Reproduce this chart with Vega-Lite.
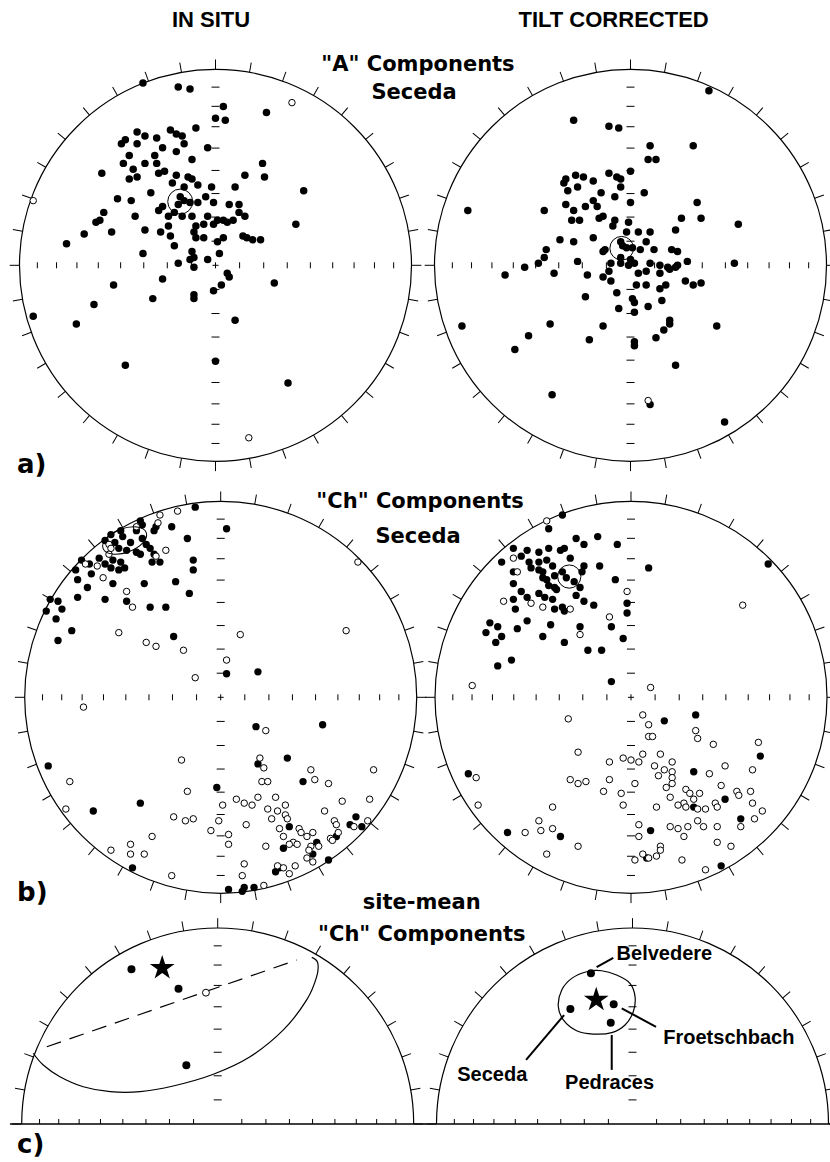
{
"$schema":"https://vega.github.io/schema/vega-lite/v6.json",
"width":830,"height":1162,"autosize":{"type":"none"},"padding":0,"background":"white",
"config":{"view":{"stroke":null}},
"datasets":{
"az":[{"az":0,"x":0,"y":0},{"az":10,"x":0,"y":0},{"az":20,"x":0,"y":0},{"az":30,"x":0,"y":0},{"az":40,"x":0,"y":0},{"az":50,"x":0,"y":0},{"az":60,"x":0,"y":0},{"az":70,"x":0,"y":0},{"az":80,"x":0,"y":0},{"az":90,"x":0,"y":0},{"az":100,"x":0,"y":0},{"az":110,"x":0,"y":0},{"az":120,"x":0,"y":0},{"az":130,"x":0,"y":0},{"az":140,"x":0,"y":0},{"az":150,"x":0,"y":0},{"az":160,"x":0,"y":0},{"az":170,"x":0,"y":0},{"az":180,"x":0,"y":0},{"az":190,"x":0,"y":0},{"az":200,"x":0,"y":0},{"az":210,"x":0,"y":0},{"az":220,"x":0,"y":0},{"az":230,"x":0,"y":0},{"az":240,"x":0,"y":0},{"az":250,"x":0,"y":0},{"az":260,"x":0,"y":0},{"az":270,"x":0,"y":0},{"az":280,"x":0,"y":0},{"az":290,"x":0,"y":0},{"az":300,"x":0,"y":0},{"az":310,"x":0,"y":0},{"az":320,"x":0,"y":0},{"az":330,"x":0,"y":0},{"az":340,"x":0,"y":0},{"az":350,"x":0,"y":0}],
"grid":[{"x":0.123,"y":0,"d":"h"},{"x":-0.123,"y":0,"d":"h"},{"x":0,"y":0.123,"d":"v"},{"x":0,"y":-0.123,"d":"v"},{"x":0.246,"y":0,"d":"h"},{"x":-0.246,"y":0,"d":"h"},{"x":0,"y":0.246,"d":"v"},{"x":0,"y":-0.246,"d":"v"},{"x":0.366,"y":0,"d":"h"},{"x":-0.366,"y":0,"d":"h"},{"x":0,"y":0.366,"d":"v"},{"x":0,"y":-0.366,"d":"v"},{"x":0.484,"y":0,"d":"h"},{"x":-0.484,"y":0,"d":"h"},{"x":0,"y":0.484,"d":"v"},{"x":0,"y":-0.484,"d":"v"},{"x":0.598,"y":0,"d":"h"},{"x":-0.598,"y":0,"d":"h"},{"x":0,"y":0.598,"d":"v"},{"x":0,"y":-0.598,"d":"v"},{"x":0.707,"y":0,"d":"h"},{"x":-0.707,"y":0,"d":"h"},{"x":0,"y":0.707,"d":"v"},{"x":0,"y":-0.707,"d":"v"},{"x":0.811,"y":0,"d":"h"},{"x":-0.811,"y":0,"d":"h"},{"x":0,"y":0.811,"d":"v"},{"x":0,"y":-0.811,"d":"v"},{"x":0.909,"y":0,"d":"h"},{"x":-0.909,"y":0,"d":"h"},{"x":0,"y":0.909,"d":"v"},{"x":0,"y":-0.909,"d":"v"}],
"ctr":[{"x":0,"y":0}],
"TL":[{"x":-0.37,"y":0.93,"t":"F"},{"x":-0.19,"y":0.91,"t":"F"},{"x":-0.13,"y":0.9,"t":"F"},{"x":0.04,"y":0.81,"t":"F"},{"x":0,"y":0.75,"t":"F"},{"x":0.05,"y":0.74,"t":"F"},{"x":0.26,"y":0.78,"t":"F"},{"x":-0.1,"y":0.7,"t":"F"},{"x":-0.23,"y":0.69,"t":"F"},{"x":-0.2,"y":0.67,"t":"F"},{"x":-0.17,"y":0.66,"t":"F"},{"x":-0.4,"y":0.68,"t":"F"},{"x":-0.36,"y":0.66,"t":"F"},{"x":-0.46,"y":0.64,"t":"F"},{"x":-0.48,"y":0.62,"t":"F"},{"x":-0.4,"y":0.62,"t":"F"},{"x":-0.3,"y":0.65,"t":"F"},{"x":-0.16,"y":0.62,"t":"F"},{"x":-0.27,"y":0.6,"t":"F"},{"x":-0.2,"y":0.58,"t":"F"},{"x":-0.04,"y":0.6,"t":"F"},{"x":-0.44,"y":0.56,"t":"F"},{"x":-0.31,"y":0.56,"t":"F"},{"x":-0.12,"y":0.54,"t":"F"},{"x":-0.47,"y":0.52,"t":"F"},{"x":-0.36,"y":0.52,"t":"F"},{"x":-0.3,"y":0.52,"t":"F"},{"x":-0.42,"y":0.49,"t":"F"},{"x":-0.29,"y":0.47,"t":"F"},{"x":-0.26,"y":0.48,"t":"F"},{"x":-0.44,"y":0.44,"t":"F"},{"x":-0.4,"y":0.45,"t":"F"},{"x":-0.2,"y":0.46,"t":"F"},{"x":-0.22,"y":0.42,"t":"F"},{"x":-0.14,"y":0.45,"t":"F"},{"x":-0.12,"y":0.44,"t":"F"},{"x":-0.58,"y":0.47,"t":"F"},{"x":0.24,"y":0.52,"t":"F"},{"x":0.15,"y":0.46,"t":"F"},{"x":0.25,"y":0.45,"t":"F"},{"x":-0.16,"y":0.4,"t":"F"},{"x":-0.09,"y":0.41,"t":"F"},{"x":-0.02,"y":0.4,"t":"F"},{"x":0.1,"y":0.4,"t":"F"},{"x":0.45,"y":0.38,"t":"F"},{"x":-0.33,"y":0.37,"t":"F"},{"x":-0.5,"y":0.34,"t":"F"},{"x":-0.43,"y":0.33,"t":"F"},{"x":-0.18,"y":0.35,"t":"F"},{"x":-0.16,"y":0.33,"t":"F"},{"x":-0.13,"y":0.32,"t":"F"},{"x":-0.19,"y":0.31,"t":"F"},{"x":-0.05,"y":0.35,"t":"F"},{"x":-0.09,"y":0.32,"t":"F"},{"x":-0.01,"y":0.32,"t":"F"},{"x":0.07,"y":0.31,"t":"F"},{"x":0.12,"y":0.31,"t":"F"},{"x":-0.29,"y":0.28,"t":"F"},{"x":-0.27,"y":0.3,"t":"F"},{"x":-0.21,"y":0.27,"t":"F"},{"x":-0.24,"y":0.25,"t":"F"},{"x":-0.17,"y":0.25,"t":"F"},{"x":-0.12,"y":0.25,"t":"F"},{"x":-0.57,"y":0.27,"t":"F"},{"x":-0.59,"y":0.23,"t":"F"},{"x":-0.61,"y":0.22,"t":"F"},{"x":-0.41,"y":0.25,"t":"F"},{"x":-0.04,"y":0.25,"t":"F"},{"x":0.01,"y":0.23,"t":"F"},{"x":0.06,"y":0.22,"t":"F"},{"x":0.09,"y":0.23,"t":"F"},{"x":0.15,"y":0.25,"t":"F"},{"x":0.12,"y":0.27,"t":"F"},{"x":0.41,"y":0.21,"t":"F"},{"x":-0.24,"y":0.2,"t":"F"},{"x":-0.1,"y":0.2,"t":"F"},{"x":-0.06,"y":0.21,"t":"F"},{"x":-0.01,"y":0.21,"t":"F"},{"x":0.04,"y":0.23,"t":"F"},{"x":-0.67,"y":0.16,"t":"F"},{"x":-0.53,"y":0.17,"t":"F"},{"x":-0.36,"y":0.18,"t":"F"},{"x":-0.28,"y":0.17,"t":"F"},{"x":-0.23,"y":0.15,"t":"F"},{"x":-0.11,"y":0.17,"t":"F"},{"x":-0.1,"y":0.14,"t":"F"},{"x":-0.06,"y":0.14,"t":"F"},{"x":0.01,"y":0.12,"t":"F"},{"x":0.04,"y":0.14,"t":"F"},{"x":0.14,"y":0.15,"t":"F"},{"x":0.16,"y":0.14,"t":"F"},{"x":0.19,"y":0.13,"t":"F"},{"x":0.23,"y":0.13,"t":"F"},{"x":-0.76,"y":0.11,"t":"F"},{"x":-0.21,"y":0.1,"t":"F"},{"x":-0.37,"y":0.06,"t":"F"},{"x":-0.12,"y":0.07,"t":"F"},{"x":-0.11,"y":0.04,"t":"F"},{"x":-0.04,"y":0.03,"t":"F"},{"x":0.02,"y":0.06,"t":"F"},{"x":-0.19,"y":0.01,"t":"F"},{"x":-0.13,"y":0.03,"t":"F"},{"x":-0.11,"y":-0.01,"t":"F"},{"x":0.06,"y":-0.04,"t":"F"},{"x":0.07,"y":-0.06,"t":"F"},{"x":0.03,"y":-0.1,"t":"F"},{"x":-0.01,"y":-0.13,"t":"F"},{"x":0.3,"y":-0.09,"t":"F"},{"x":-0.27,"y":-0.07,"t":"F"},{"x":-0.52,"y":-0.1,"t":"F"},{"x":-0.32,"y":-0.17,"t":"F"},{"x":-0.11,"y":-0.15,"t":"F"},{"x":-0.11,"y":-0.17,"t":"F"},{"x":-0.62,"y":-0.2,"t":"F"},{"x":-0.93,"y":-0.26,"t":"F"},{"x":-0.71,"y":-0.3,"t":"F"},{"x":0.1,"y":-0.28,"t":"F"},{"x":-0.46,"y":-0.51,"t":"F"},{"x":0,"y":-0.49,"t":"F"},{"x":0.37,"y":-0.6,"t":"F"},{"x":0.39,"y":0.83,"t":"O"},{"x":-0.93,"y":0.33,"t":"O"},{"x":0.17,"y":-0.88,"t":"O"}],
"TR":[{"x":0.4,"y":0.89,"t":"F"},{"x":-0.29,"y":0.74,"t":"F"},{"x":-0.11,"y":0.71,"t":"F"},{"x":-0.06,"y":0.7,"t":"F"},{"x":0.1,"y":0.61,"t":"F"},{"x":0.32,"y":0.61,"t":"F"},{"x":0.09,"y":0.54,"t":"F"},{"x":0.13,"y":0.54,"t":"F"},{"x":0,"y":0.48,"t":"F"},{"x":-0.11,"y":0.47,"t":"F"},{"x":-0.07,"y":0.45,"t":"F"},{"x":-0.05,"y":0.44,"t":"F"},{"x":-0.28,"y":0.46,"t":"F"},{"x":-0.24,"y":0.45,"t":"F"},{"x":-0.33,"y":0.44,"t":"F"},{"x":-0.34,"y":0.42,"t":"F"},{"x":-0.19,"y":0.43,"t":"F"},{"x":-0.27,"y":0.4,"t":"F"},{"x":-0.32,"y":0.38,"t":"F"},{"x":-0.05,"y":0.4,"t":"F"},{"x":0.07,"y":0.37,"t":"F"},{"x":-0.15,"y":0.37,"t":"F"},{"x":-0.08,"y":0.35,"t":"F"},{"x":-0.19,"y":0.33,"t":"F"},{"x":-0.17,"y":0.3,"t":"F"},{"x":-0.23,"y":0.3,"t":"F"},{"x":0,"y":0.32,"t":"F"},{"x":-0.33,"y":0.31,"t":"F"},{"x":-0.29,"y":0.28,"t":"F"},{"x":-0.83,"y":0.28,"t":"F"},{"x":-0.44,"y":0.28,"t":"F"},{"x":-0.14,"y":0.25,"t":"F"},{"x":-0.16,"y":0.24,"t":"F"},{"x":-0.3,"y":0.23,"t":"F"},{"x":-0.26,"y":0.23,"t":"F"},{"x":-0.08,"y":0.23,"t":"F"},{"x":-0.01,"y":0.22,"t":"F"},{"x":0.34,"y":0.32,"t":"F"},{"x":0.36,"y":0.24,"t":"F"},{"x":0.26,"y":0.24,"t":"F"},{"x":0.55,"y":0.21,"t":"F"},{"x":-0.02,"y":0.17,"t":"F"},{"x":0.04,"y":0.17,"t":"F"},{"x":0.1,"y":0.17,"t":"F"},{"x":0.23,"y":0.18,"t":"F"},{"x":-0.09,"y":0.2,"t":"F"},{"x":-0.19,"y":0.14,"t":"F"},{"x":-0.36,"y":0.13,"t":"F"},{"x":-0.29,"y":0.12,"t":"F"},{"x":0.08,"y":0.12,"t":"F"},{"x":-0.14,"y":0.07,"t":"F"},{"x":-0.13,"y":0.08,"t":"F"},{"x":-0.43,"y":0.08,"t":"F"},{"x":-0.44,"y":0.04,"t":"F"},{"x":-0.05,"y":0.12,"t":"F"},{"x":-0.04,"y":0.1,"t":"F"},{"x":-0.02,"y":0.09,"t":"F"},{"x":0.01,"y":0.09,"t":"F"},{"x":0.05,"y":0.08,"t":"F"},{"x":0.12,"y":0.08,"t":"F"},{"x":0.21,"y":0.08,"t":"F"},{"x":0.24,"y":0.07,"t":"F"},{"x":-0.05,"y":0.04,"t":"F"},{"x":0,"y":0.03,"t":"F"},{"x":-0.47,"y":0.01,"t":"F"},{"x":-0.27,"y":0.02,"t":"F"},{"x":-0.1,"y":0.01,"t":"F"},{"x":-0.05,"y":0.01,"t":"F"},{"x":-0.01,"y":0,"t":"F"},{"x":0.02,"y":0.01,"t":"F"},{"x":0.1,"y":0.01,"t":"F"},{"x":0.15,"y":0,"t":"F"},{"x":0.19,"y":-0.01,"t":"F"},{"x":0.24,"y":0,"t":"F"},{"x":0.29,"y":0.02,"t":"F"},{"x":0.53,"y":0.01,"t":"F"},{"x":-0.54,"y":-0.01,"t":"F"},{"x":-0.64,"y":-0.05,"t":"F"},{"x":-0.39,"y":-0.04,"t":"F"},{"x":-0.22,"y":-0.05,"t":"F"},{"x":-0.14,"y":-0.06,"t":"F"},{"x":-0.11,"y":-0.03,"t":"F"},{"x":-0.1,"y":-0.08,"t":"F"},{"x":0.04,"y":-0.04,"t":"F"},{"x":0.08,"y":-0.03,"t":"F"},{"x":0.15,"y":-0.04,"t":"F"},{"x":0.2,"y":-0.02,"t":"F"},{"x":0.23,"y":-0.01,"t":"F"},{"x":0.28,"y":-0.08,"t":"F"},{"x":0.32,"y":-0.1,"t":"F"},{"x":0.36,"y":-0.09,"t":"F"},{"x":0.03,"y":-0.1,"t":"F"},{"x":0.08,"y":-0.1,"t":"F"},{"x":0.15,"y":-0.12,"t":"F"},{"x":0.18,"y":-0.1,"t":"F"},{"x":-0.23,"y":-0.16,"t":"F"},{"x":-0.07,"y":-0.14,"t":"F"},{"x":0.01,"y":-0.17,"t":"F"},{"x":0.02,"y":-0.19,"t":"F"},{"x":0.09,"y":-0.21,"t":"F"},{"x":0.16,"y":-0.18,"t":"F"},{"x":-0.06,"y":-0.22,"t":"F"},{"x":0.02,"y":-0.24,"t":"F"},{"x":-0.86,"y":-0.31,"t":"F"},{"x":-0.41,"y":-0.3,"t":"F"},{"x":-0.14,"y":-0.31,"t":"F"},{"x":0.2,"y":-0.28,"t":"F"},{"x":0.2,"y":-0.3,"t":"F"},{"x":0.44,"y":-0.31,"t":"F"},{"x":-0.52,"y":-0.36,"t":"F"},{"x":-0.21,"y":-0.38,"t":"F"},{"x":0.02,"y":-0.39,"t":"F"},{"x":0.02,"y":-0.41,"t":"F"},{"x":0.13,"y":-0.37,"t":"F"},{"x":0.17,"y":-0.33,"t":"F"},{"x":-0.59,"y":-0.43,"t":"F"},{"x":0.23,"y":-0.51,"t":"F"},{"x":-0.4,"y":-0.66,"t":"F"},{"x":0.1,"y":-0.71,"t":"F"},{"x":0.48,"y":-0.8,"t":"F"},{"x":0.09,"y":-0.69,"t":"O"}],
"ML":[{"x":-0.13,"y":0.97,"t":"F"},{"x":-0.22,"y":0.95,"t":"O"},{"x":-0.31,"y":0.93,"t":"O"},{"x":-0.32,"y":0.89,"t":"O"},{"x":-0.33,"y":0.87,"t":"F"},{"x":-0.34,"y":0.85,"t":"F"},{"x":-0.25,"y":0.87,"t":"F"},{"x":-0.41,"y":0.9,"t":"F"},{"x":-0.43,"y":0.87,"t":"O"},{"x":-0.4,"y":0.88,"t":"F"},{"x":-0.43,"y":0.85,"t":"F"},{"x":-0.51,"y":0.85,"t":"F"},{"x":-0.56,"y":0.83,"t":"F"},{"x":-0.59,"y":0.8,"t":"F"},{"x":-0.57,"y":0.78,"t":"O"},{"x":-0.54,"y":0.79,"t":"F"},{"x":-0.5,"y":0.82,"t":"F"},{"x":-0.46,"y":0.79,"t":"F"},{"x":-0.48,"y":0.75,"t":"F"},{"x":-0.52,"y":0.76,"t":"F"},{"x":-0.56,"y":0.76,"t":"O"},{"x":-0.62,"y":0.71,"t":"F"},{"x":-0.57,"y":0.73,"t":"O"},{"x":-0.55,"y":0.7,"t":"F"},{"x":-0.51,"y":0.69,"t":"F"},{"x":-0.49,"y":0.66,"t":"F"},{"x":-0.52,"y":0.65,"t":"F"},{"x":-0.56,"y":0.66,"t":"F"},{"x":-0.59,"y":0.68,"t":"F"},{"x":-0.38,"y":0.78,"t":"F"},{"x":-0.36,"y":0.76,"t":"F"},{"x":-0.34,"y":0.73,"t":"F"},{"x":-0.31,"y":0.69,"t":"F"},{"x":-0.35,"y":0.69,"t":"F"},{"x":-0.33,"y":0.72,"t":"O"},{"x":-0.41,"y":0.73,"t":"F"},{"x":-0.43,"y":0.74,"t":"F"},{"x":-0.4,"y":0.81,"t":"F"},{"x":-0.28,"y":0.75,"t":"O"},{"x":-0.71,"y":0.7,"t":"F"},{"x":-0.69,"y":0.68,"t":"O"},{"x":-0.74,"y":0.65,"t":"F"},{"x":-0.67,"y":0.68,"t":"F"},{"x":-0.63,"y":0.67,"t":"O"},{"x":-0.66,"y":0.63,"t":"F"},{"x":-0.6,"y":0.61,"t":"O"},{"x":-0.73,"y":0.6,"t":"F"},{"x":-0.68,"y":0.56,"t":"F"},{"x":-0.55,"y":0.58,"t":"F"},{"x":-0.73,"y":0.51,"t":"F"},{"x":-0.59,"y":0.5,"t":"F"},{"x":-0.48,"y":0.54,"t":"O"},{"x":-0.48,"y":0.49,"t":"F"},{"x":-0.45,"y":0.46,"t":"O"},{"x":-0.36,"y":0.46,"t":"F"},{"x":-0.28,"y":0.46,"t":"F"},{"x":-0.39,"y":0.58,"t":"F"},{"x":-0.23,"y":0.59,"t":"F"},{"x":-0.16,"y":0.53,"t":"F"},{"x":-0.14,"y":0.7,"t":"F"},{"x":-0.14,"y":0.65,"t":"F"},{"x":-0.17,"y":0.81,"t":"F"},{"x":0.03,"y":0.86,"t":"F"},{"x":-0.87,"y":0.5,"t":"F"},{"x":-0.83,"y":0.49,"t":"F"},{"x":-0.89,"y":0.44,"t":"F"},{"x":-0.81,"y":0.45,"t":"F"},{"x":-0.84,"y":0.4,"t":"F"},{"x":-0.76,"y":0.34,"t":"F"},{"x":-0.83,"y":0.29,"t":"F"},{"x":-0.52,"y":0.33,"t":"O"},{"x":-0.38,"y":0.28,"t":"O"},{"x":-0.33,"y":0.26,"t":"O"},{"x":-0.24,"y":0.31,"t":"F"},{"x":-0.19,"y":0.24,"t":"O"},{"x":0.1,"y":0.32,"t":"O"},{"x":0.03,"y":0.19,"t":"O"},{"x":0.7,"y":0.69,"t":"O"},{"x":0.64,"y":0.34,"t":"O"},{"x":0.03,"y":0.12,"t":"F"},{"x":0.19,"y":0.13,"t":"F"},{"x":-0.13,"y":0.1,"t":"O"},{"x":-0.7,"y":-0.05,"t":"O"},{"x":0.18,"y":-0.15,"t":"F"},{"x":0.23,"y":-0.17,"t":"O"},{"x":0.52,"y":-0.14,"t":"F"},{"x":-0.88,"y":-0.35,"t":"F"},{"x":-0.77,"y":-0.43,"t":"O"},{"x":-0.2,"y":-0.32,"t":"O"},{"x":0.2,"y":-0.31,"t":"O"},{"x":0.19,"y":-0.34,"t":"F"},{"x":0.22,"y":-0.36,"t":"O"},{"x":0.34,"y":-0.31,"t":"F"},{"x":0.21,"y":-0.43,"t":"O"},{"x":0.24,"y":-0.43,"t":"O"},{"x":0.46,"y":-0.37,"t":"O"},{"x":0.48,"y":-0.42,"t":"O"},{"x":0.42,"y":-0.43,"t":"F"},{"x":0.55,"y":-0.44,"t":"O"},{"x":0.78,"y":-0.37,"t":"O"},{"x":-0.17,"y":-0.48,"t":"O"},{"x":-0.02,"y":-0.46,"t":"F"},{"x":0.01,"y":-0.55,"t":"O"},{"x":0.08,"y":-0.52,"t":"O"},{"x":0.12,"y":-0.54,"t":"O"},{"x":0.16,"y":-0.55,"t":"O"},{"x":0.19,"y":-0.51,"t":"O"},{"x":0.28,"y":-0.51,"t":"O"},{"x":0.33,"y":-0.55,"t":"O"},{"x":0.24,"y":-0.57,"t":"O"},{"x":0.29,"y":-0.58,"t":"O"},{"x":0.33,"y":-0.6,"t":"O"},{"x":0.34,"y":-0.62,"t":"O"},{"x":0.26,"y":-0.62,"t":"O"},{"x":0.62,"y":-0.53,"t":"O"},{"x":0.53,"y":-0.58,"t":"O"},{"x":0.76,"y":-0.52,"t":"O"},{"x":-0.79,"y":-0.57,"t":"O"},{"x":-0.65,"y":-0.58,"t":"F"},{"x":-0.41,"y":-0.54,"t":"F"},{"x":-0.24,"y":-0.61,"t":"O"},{"x":-0.18,"y":-0.63,"t":"O"},{"x":-0.14,"y":-0.62,"t":"O"},{"x":-0.01,"y":-0.63,"t":"O"},{"x":0.13,"y":-0.65,"t":"O"},{"x":0.35,"y":-0.66,"t":"F"},{"x":0.3,"y":-0.67,"t":"O"},{"x":0.4,"y":-0.67,"t":"O"},{"x":0.41,"y":-0.69,"t":"O"},{"x":0.44,"y":-0.71,"t":"O"},{"x":0.47,"y":-0.69,"t":"O"},{"x":0.58,"y":-0.63,"t":"O"},{"x":0.59,"y":-0.65,"t":"O"},{"x":0.69,"y":-0.61,"t":"F"},{"x":0.66,"y":-0.65,"t":"F"},{"x":0.68,"y":-0.66,"t":"O"},{"x":0.75,"y":-0.63,"t":"O"},{"x":0.72,"y":-0.66,"t":"F"},{"x":0.6,"y":-0.69,"t":"O"},{"x":0.56,"y":-0.72,"t":"O"},{"x":0.59,"y":-0.71,"t":"F"},{"x":0.57,"y":-0.73,"t":"O"},{"x":0.49,"y":-0.74,"t":"F"},{"x":-0.05,"y":-0.68,"t":"O"},{"x":0.04,"y":-0.7,"t":"O"},{"x":0.04,"y":-0.75,"t":"O"},{"x":0.32,"y":-0.71,"t":"O"},{"x":0.37,"y":-0.74,"t":"O"},{"x":0.39,"y":-0.75,"t":"O"},{"x":0.35,"y":-0.75,"t":"O"},{"x":0.32,"y":-0.77,"t":"F"},{"x":0.23,"y":-0.76,"t":"O"},{"x":0.46,"y":-0.76,"t":"O"},{"x":0.5,"y":-0.76,"t":"O"},{"x":0.45,"y":-0.78,"t":"O"},{"x":0.47,"y":-0.8,"t":"F"},{"x":0.44,"y":-0.82,"t":"O"},{"x":0.47,"y":-0.84,"t":"O"},{"x":0.55,"y":-0.83,"t":"F"},{"x":0.38,"y":-0.86,"t":"O"},{"x":0.29,"y":-0.86,"t":"O"},{"x":0.3,"y":-0.87,"t":"F"},{"x":0.32,"y":-0.87,"t":"O"},{"x":0.28,"y":-0.89,"t":"F"},{"x":0.35,"y":-0.9,"t":"O"},{"x":0.12,"y":-0.85,"t":"O"},{"x":0.11,"y":-0.91,"t":"O"},{"x":-0.35,"y":-0.71,"t":"O"},{"x":-0.46,"y":-0.75,"t":"O"},{"x":-0.46,"y":-0.8,"t":"O"},{"x":-0.39,"y":-0.8,"t":"O"},{"x":-0.56,"y":-0.78,"t":"O"},{"x":-0.45,"y":-0.87,"t":"F"},{"x":-0.25,"y":-0.91,"t":"O"},{"x":0.04,"y":-0.98,"t":"F"},{"x":0.11,"y":-0.99,"t":"F"},{"x":0.12,"y":-0.97,"t":"F"},{"x":0.17,"y":-0.97,"t":"F"},{"x":0.22,"y":-0.96,"t":"O"}],
"MR":[{"x":-0.35,"y":0.93,"t":"F"},{"x":-0.43,"y":0.9,"t":"O"},{"x":-0.42,"y":0.86,"t":"F"},{"x":-0.28,"y":0.81,"t":"F"},{"x":-0.24,"y":0.78,"t":"F"},{"x":-0.17,"y":0.82,"t":"F"},{"x":-0.07,"y":0.78,"t":"F"},{"x":-0.6,"y":0.76,"t":"F"},{"x":-0.53,"y":0.75,"t":"F"},{"x":-0.47,"y":0.74,"t":"F"},{"x":-0.42,"y":0.76,"t":"F"},{"x":-0.36,"y":0.75,"t":"F"},{"x":-0.34,"y":0.76,"t":"F"},{"x":-0.66,"y":0.69,"t":"F"},{"x":-0.6,"y":0.71,"t":"O"},{"x":-0.56,"y":0.72,"t":"F"},{"x":-0.52,"y":0.69,"t":"F"},{"x":-0.47,"y":0.69,"t":"F"},{"x":-0.43,"y":0.7,"t":"F"},{"x":-0.4,"y":0.67,"t":"F"},{"x":-0.31,"y":0.71,"t":"F"},{"x":-0.24,"y":0.67,"t":"F"},{"x":-0.16,"y":0.67,"t":"F"},{"x":-0.6,"y":0.64,"t":"F"},{"x":-0.58,"y":0.64,"t":"O"},{"x":-0.51,"y":0.66,"t":"F"},{"x":-0.47,"y":0.65,"t":"F"},{"x":-0.45,"y":0.64,"t":"F"},{"x":-0.45,"y":0.61,"t":"F"},{"x":-0.43,"y":0.6,"t":"F"},{"x":-0.39,"y":0.62,"t":"F"},{"x":-0.35,"y":0.64,"t":"F"},{"x":-0.33,"y":0.61,"t":"F"},{"x":-0.29,"y":0.59,"t":"F"},{"x":-0.25,"y":0.64,"t":"F"},{"x":-0.26,"y":0.56,"t":"F"},{"x":-0.28,"y":0.52,"t":"F"},{"x":-0.24,"y":0.49,"t":"F"},{"x":-0.19,"y":0.47,"t":"F"},{"x":-0.39,"y":0.56,"t":"F"},{"x":-0.38,"y":0.55,"t":"F"},{"x":-0.42,"y":0.57,"t":"F"},{"x":-0.6,"y":0.58,"t":"F"},{"x":-0.56,"y":0.54,"t":"F"},{"x":-0.53,"y":0.51,"t":"F"},{"x":-0.47,"y":0.53,"t":"F"},{"x":-0.44,"y":0.51,"t":"F"},{"x":-0.4,"y":0.5,"t":"F"},{"x":-0.39,"y":0.45,"t":"F"},{"x":-0.35,"y":0.46,"t":"F"},{"x":-0.34,"y":0.44,"t":"F"},{"x":-0.45,"y":0.46,"t":"O"},{"x":-0.51,"y":0.48,"t":"O"},{"x":-0.65,"y":0.49,"t":"O"},{"x":-0.6,"y":0.5,"t":"F"},{"x":-0.59,"y":0.45,"t":"F"},{"x":-0.53,"y":0.39,"t":"F"},{"x":-0.31,"y":0.45,"t":"O"},{"x":-0.08,"y":0.6,"t":"F"},{"x":-0.02,"y":0.54,"t":"O"},{"x":-0.02,"y":0.48,"t":"F"},{"x":-0.02,"y":0.43,"t":"F"},{"x":-0.11,"y":0.41,"t":"O"},{"x":-0.1,"y":0.36,"t":"F"},{"x":-0.04,"y":0.3,"t":"F"},{"x":-0.26,"y":0.36,"t":"F"},{"x":-0.26,"y":0.32,"t":"O"},{"x":-0.41,"y":0.37,"t":"F"},{"x":-0.58,"y":0.35,"t":"F"},{"x":-0.45,"y":0.31,"t":"F"},{"x":-0.34,"y":0.28,"t":"F"},{"x":-0.22,"y":0.24,"t":"F"},{"x":-0.15,"y":0.24,"t":"F"},{"x":-0.72,"y":0.38,"t":"F"},{"x":-0.68,"y":0.36,"t":"F"},{"x":-0.74,"y":0.33,"t":"F"},{"x":-0.66,"y":0.31,"t":"F"},{"x":-0.69,"y":0.28,"t":"F"},{"x":-0.61,"y":0.19,"t":"F"},{"x":-0.68,"y":0.16,"t":"F"},{"x":0.09,"y":0.66,"t":"F"},{"x":0.57,"y":0.47,"t":"O"},{"x":0.7,"y":0.68,"t":"F"},{"x":-0.1,"y":0.08,"t":"F"},{"x":-0.81,"y":0.06,"t":"O"},{"x":0.1,"y":0.05,"t":"O"},{"x":-0.32,"y":-0.11,"t":"O"},{"x":0.06,"y":-0.09,"t":"O"},{"x":0.09,"y":-0.14,"t":"O"},{"x":0.17,"y":-0.12,"t":"F"},{"x":0.33,"y":-0.09,"t":"F"},{"x":0.09,"y":-0.2,"t":"O"},{"x":0.11,"y":-0.2,"t":"O"},{"x":0.33,"y":-0.17,"t":"O"},{"x":0.34,"y":-0.21,"t":"O"},{"x":0.42,"y":-0.24,"t":"O"},{"x":0.65,"y":-0.23,"t":"O"},{"x":0.66,"y":-0.3,"t":"F"},{"x":-0.27,"y":-0.28,"t":"O"},{"x":-0.11,"y":-0.33,"t":"O"},{"x":-0.04,"y":-0.31,"t":"O"},{"x":0,"y":-0.32,"t":"O"},{"x":0.04,"y":-0.33,"t":"O"},{"x":0.06,"y":-0.29,"t":"O"},{"x":0.15,"y":-0.29,"t":"O"},{"x":0.12,"y":-0.35,"t":"O"},{"x":0.17,"y":-0.37,"t":"O"},{"x":0.21,"y":-0.33,"t":"O"},{"x":0.21,"y":-0.38,"t":"O"},{"x":0.14,"y":-0.4,"t":"O"},{"x":0.21,"y":-0.41,"t":"O"},{"x":0.21,"y":-0.44,"t":"O"},{"x":0.18,"y":-0.46,"t":"O"},{"x":0.32,"y":-0.38,"t":"F"},{"x":0.4,"y":-0.39,"t":"O"},{"x":0.48,"y":-0.35,"t":"O"},{"x":0.62,"y":-0.37,"t":"O"},{"x":-0.83,"y":-0.39,"t":"F"},{"x":-0.79,"y":-0.41,"t":"O"},{"x":-0.31,"y":-0.42,"t":"O"},{"x":-0.27,"y":-0.44,"t":"O"},{"x":-0.23,"y":-0.43,"t":"O"},{"x":-0.11,"y":-0.42,"t":"O"},{"x":0.02,"y":-0.44,"t":"O"},{"x":-0.14,"y":-0.48,"t":"O"},{"x":-0.05,"y":-0.49,"t":"O"},{"x":-0.04,"y":-0.55,"t":"O"},{"x":0.2,"y":-0.51,"t":"O"},{"x":0.28,"y":-0.47,"t":"O"},{"x":0.3,"y":-0.49,"t":"O"},{"x":0.35,"y":-0.49,"t":"O"},{"x":0.32,"y":-0.52,"t":"O"},{"x":0.27,"y":-0.54,"t":"O"},{"x":0.24,"y":-0.55,"t":"O"},{"x":0.28,"y":-0.56,"t":"O"},{"x":0.32,"y":-0.56,"t":"F"},{"x":0.34,"y":-0.57,"t":"O"},{"x":0.38,"y":-0.57,"t":"O"},{"x":0.46,"y":-0.45,"t":"O"},{"x":0.43,"y":-0.54,"t":"O"},{"x":0.44,"y":-0.56,"t":"O"},{"x":0.48,"y":-0.52,"t":"F"},{"x":0.54,"y":-0.48,"t":"O"},{"x":0.55,"y":-0.5,"t":"O"},{"x":0.61,"y":-0.48,"t":"O"},{"x":0.62,"y":-0.54,"t":"O"},{"x":0.67,"y":-0.58,"t":"O"},{"x":0.63,"y":-0.62,"t":"O"},{"x":0.56,"y":-0.62,"t":"F"},{"x":0.56,"y":-0.66,"t":"O"},{"x":0.34,"y":-0.63,"t":"O"},{"x":0.37,"y":-0.66,"t":"O"},{"x":0.44,"y":-0.66,"t":"O"},{"x":0.13,"y":-0.56,"t":"O"},{"x":0.04,"y":-0.65,"t":"O"},{"x":0.1,"y":-0.68,"t":"F"},{"x":0.2,"y":-0.66,"t":"O"},{"x":0.24,"y":-0.67,"t":"O"},{"x":0.29,"y":-0.66,"t":"O"},{"x":0.27,"y":-0.71,"t":"O"},{"x":0.04,"y":-0.71,"t":"O"},{"x":0.15,"y":-0.76,"t":"O"},{"x":0.15,"y":-0.78,"t":"O"},{"x":0.13,"y":-0.81,"t":"O"},{"x":0.08,"y":-0.82,"t":"F"},{"x":0.06,"y":-0.8,"t":"O"},{"x":0.09,"y":-0.82,"t":"O"},{"x":0.02,"y":-0.83,"t":"O"},{"x":0.26,"y":-0.83,"t":"O"},{"x":0.44,"y":-0.74,"t":"O"},{"x":0.51,"y":-0.76,"t":"O"},{"x":0.38,"y":-0.88,"t":"O"},{"x":0.46,"y":-0.86,"t":"F"},{"x":-0.78,"y":-0.55,"t":"O"},{"x":-0.63,"y":-0.69,"t":"F"},{"x":-0.54,"y":-0.69,"t":"O"},{"x":-0.47,"y":-0.63,"t":"O"},{"x":-0.46,"y":-0.68,"t":"O"},{"x":-0.4,"y":-0.67,"t":"O"},{"x":-0.36,"y":-0.71,"t":"F"},{"x":-0.4,"y":-0.56,"t":"O"},{"x":-0.27,"y":-0.76,"t":"O"},{"x":-0.43,"y":-0.8,"t":"O"}],
"BL":[{"x":-0.44,"y":0.79,"t":"F"},{"x":-0.2,"y":0.69,"t":"F"},{"x":-0.06,"y":0.67,"t":"O"},{"x":-0.16,"y":0.3,"t":"F"}],
"BLoval":[{"i":0,"x":-0.941,"y":0.361},{"i":1,"x":-0.89,"y":0.301},{"i":2,"x":-0.805,"y":0.241},{"i":3,"x":-0.686,"y":0.19},{"i":4,"x":-0.549,"y":0.165},{"i":5,"x":-0.396,"y":0.165},{"i":6,"x":-0.227,"y":0.194},{"i":7,"x":-0.022,"y":0.254},{"i":8,"x":0.165,"y":0.343},{"i":9,"x":0.335,"y":0.48},{"i":10,"x":0.454,"y":0.633},{"i":11,"x":0.505,"y":0.752},{"i":12,"x":0.51,"y":0.823},{"i":13,"x":0.48,"y":0.85}],
"BLdash":[{"i":0,"x":-0.872,"y":0.394},{"i":1,"x":0.403,"y":0.837}],
"BR":[{"x":-0.212,"y":0.769,"t":"F"},{"x":-0.317,"y":0.587,"t":"F"},{"x":-0.096,"y":0.611,"t":"F"},{"x":-0.111,"y":0.517,"t":"F"}],
"BRoval":[{"i":0,"x":-0.379,"y":0.602},{"i":1,"x":-0.361,"y":0.684},{"i":2,"x":-0.31,"y":0.743},{"i":3,"x":-0.234,"y":0.777},{"i":4,"x":-0.157,"y":0.782},{"i":5,"x":-0.081,"y":0.76},{"i":6,"x":-0.013,"y":0.718},{"i":7,"x":0.013,"y":0.65},{"i":8,"x":0.004,"y":0.573},{"i":9,"x":-0.038,"y":0.505},{"i":10,"x":-0.106,"y":0.466},{"i":11,"x":-0.2,"y":0.459},{"i":12,"x":-0.285,"y":0.476},{"i":13,"x":-0.353,"y":0.531}],
"BRlead":[{"x":-0.183,"y":0.8,"x2":-0.098,"y2":0.848},{"x":-0.055,"y":0.59,"x2":0.12,"y2":0.496},{"x":-0.106,"y":0.454,"x2":-0.106,"y2":0.276},{"x":-0.349,"y":0.556,"x2":-0.543,"y2":0.327}],
"BRlab":[{"x":-0.081,"y":0.867,"s":"Belvedere"},{"x":0.157,"y":0.439,"s":"Froetschbach"},{"x":-0.894,"y":0.25,"s":"Seceda"},{"x":-0.344,"y":0.209,"s":"Pedraces"}]
},
"resolve":{"scale":{"x":"independent","y":"independent"}},
"layer":[
{"data":{"name":"TL"},
 "encoding":{"x":{"field":"x","type":"quantitative","axis":null,"scale":{"domain":[-1.09949,3.1352],"nice":false,"zero":false}},"y":{"field":"y","type":"quantitative","axis":null,"scale":{"domain":[-4.575,1.35357],"nice":false,"zero":false}}},
 "layer":[
  {"data":{"name":"ctr"},"mark":{"type":"point","shape":"circle","size":153664,"filled":false,"stroke":"black","strokeWidth":1.2,"opacity":1}},
  {"data":{"name":"az"},"mark":{"type":"point","shape":"M0,-1L0,-1.05","size":153664,"filled":false,"stroke":"black","strokeWidth":1,"opacity":1},"encoding":{"angle":{"field":"az","type":"quantitative","scale":null}}},
  {"data":{"name":"grid"},"transform":[{"filter":"datum.d==='h'"}],"mark":{"type":"point","shape":"M0,-1L0,1","size":36,"filled":false,"stroke":"black","strokeWidth":1,"opacity":1}},
  {"data":{"name":"grid"},"transform":[{"filter":"datum.d==='v'"}],"mark":{"type":"point","shape":"M-1,0L1,0","size":64,"filled":false,"stroke":"black","strokeWidth":1,"opacity":1}},
  {"data":{"name":"ctr"},"mark":{"type":"point","shape":"M-1,0L1,0M0,-1L0,1","size":36,"filled":false,"stroke":"black","strokeWidth":1,"opacity":1}},
  {"transform":[{"filter":"datum.t==='F'"}],"mark":{"type":"point","shape":"circle","size":56,"filled":true,"color":"black","opacity":1}},
  {"transform":[{"filter":"datum.t==='O'"}],"mark":{"type":"point","shape":"circle","size":42,"filled":false,"fill":"white","stroke":"black","strokeWidth":1,"opacity":1}},
  {"data":{"values":[{"x":-0.18,"y":0.325}]},"mark":{"type":"point","shape":"circle","size":625,"filled":false,"stroke":"black","strokeWidth":1,"opacity":1}},
  {"data":{"values":[{"x":-0.023,"y":1.249,"s":"IN SITU"},{"x":2.031,"y":1.249,"s":"TILT CORRECTED"}]},"mark":{"type":"text","font":"Liberation Sans","fontWeight":"bold","fontSize":22,"align":"center","baseline":"middle","color":"black"},"encoding":{"text":{"field":"s"}}},
  {"data":{"values":[{"x":1.033,"y":1.024,"s":"\"A\" Components"},{"x":1.013,"y":0.877,"s":"Seceda"}]},"mark":{"type":"text","font":"DejaVu Sans","fontWeight":"bold","fontSize":21,"align":"center","baseline":"middle","color":"black"},"encoding":{"text":{"field":"s"}}},
  {"data":{"values":[{"x":-1.013,"y":-1.019,"s":"a)"}]},"mark":{"type":"text","font":"DejaVu Sans","fontWeight":"bold","fontSize":26,"align":"left","baseline":"middle","color":"black"},"encoding":{"text":{"field":"s"}}}
 ]},
{"data":{"name":"TR"},
 "encoding":{"x":{"field":"x","type":"quantitative","axis":null,"scale":{"domain":[-3.21684,1.01786],"nice":false,"zero":false}},"y":{"field":"y","type":"quantitative","axis":null,"scale":{"domain":[-4.575,1.35357],"nice":false,"zero":false}}},
 "layer":[
  {"data":{"name":"ctr"},"mark":{"type":"point","shape":"circle","size":153664,"filled":false,"stroke":"black","strokeWidth":1.2,"opacity":1}},
  {"data":{"name":"az"},"mark":{"type":"point","shape":"M0,-1L0,-1.05","size":153664,"filled":false,"stroke":"black","strokeWidth":1,"opacity":1},"encoding":{"angle":{"field":"az","type":"quantitative","scale":null}}},
  {"data":{"name":"grid"},"transform":[{"filter":"datum.d==='h'"}],"mark":{"type":"point","shape":"M0,-1L0,1","size":36,"filled":false,"stroke":"black","strokeWidth":1,"opacity":1}},
  {"data":{"name":"grid"},"transform":[{"filter":"datum.d==='v'"}],"mark":{"type":"point","shape":"M-1,0L1,0","size":64,"filled":false,"stroke":"black","strokeWidth":1,"opacity":1}},
  {"data":{"name":"ctr"},"mark":{"type":"point","shape":"M-1,0L1,0M0,-1L0,1","size":36,"filled":false,"stroke":"black","strokeWidth":1,"opacity":1}},
  {"transform":[{"filter":"datum.t==='F'"}],"mark":{"type":"point","shape":"circle","size":56,"filled":true,"color":"black","opacity":1}},
  {"transform":[{"filter":"datum.t==='O'"}],"mark":{"type":"point","shape":"circle","size":42,"filled":false,"fill":"white","stroke":"black","strokeWidth":1,"opacity":1}},
  {"data":{"values":[{"x":-0.045,"y":0.087}]},"mark":{"type":"point","shape":"circle","size":560,"filled":false,"stroke":"black","strokeWidth":1,"opacity":1}}
 ]},
{"data":{"name":"ML"},
 "encoding":{"x":{"field":"x","type":"quantitative","axis":null,"scale":{"domain":[-1.12602,3.10867],"nice":false,"zero":false}},"y":{"field":"y","type":"quantitative","axis":null,"scale":{"domain":[-2.37092,3.55765],"nice":false,"zero":false}}},
 "layer":[
  {"data":{"name":"ctr"},"mark":{"type":"point","shape":"circle","size":153664,"filled":false,"stroke":"black","strokeWidth":1.2,"opacity":1}},
  {"data":{"name":"az"},"mark":{"type":"point","shape":"M0,-1L0,-1.05","size":153664,"filled":false,"stroke":"black","strokeWidth":1,"opacity":1},"encoding":{"angle":{"field":"az","type":"quantitative","scale":null}}},
  {"data":{"name":"grid"},"transform":[{"filter":"datum.d==='h'"}],"mark":{"type":"point","shape":"M0,-1L0,1","size":36,"filled":false,"stroke":"black","strokeWidth":1,"opacity":1}},
  {"data":{"name":"grid"},"transform":[{"filter":"datum.d==='v'"}],"mark":{"type":"point","shape":"M-1,0L1,0","size":64,"filled":false,"stroke":"black","strokeWidth":1,"opacity":1}},
  {"data":{"name":"ctr"},"mark":{"type":"point","shape":"M-1,0L1,0M0,-1L0,1","size":36,"filled":false,"stroke":"black","strokeWidth":1,"opacity":1}},
  {"transform":[{"filter":"datum.t==='F'"}],"mark":{"type":"point","shape":"circle","size":54,"filled":true,"color":"black","opacity":1}},
  {"transform":[{"filter":"datum.t==='O'"}],"mark":{"type":"point","shape":"circle","size":42,"filled":false,"fill":"white","stroke":"black","strokeWidth":1,"opacity":1}},
  {"data":{"values":[{"x":-0.49,"y":0.8}]},"mark":{"type":"point","shape":"M-1,0 A1,0.52 0 1 1 1,0 A1,0.52 0 1 1 -1,0 Z","size":2116,"angle":340,"filled":false,"stroke":"black","strokeWidth":1,"opacity":1}},
  {"data":{"values":[{"x":1.017,"y":0.996,"s":"\"Ch\" Components"},{"x":1.007,"y":0.818,"s":"Seceda"}]},"mark":{"type":"text","font":"DejaVu Sans","fontWeight":"bold","fontSize":21,"align":"center","baseline":"middle","color":"black"},"encoding":{"text":{"field":"s"}}},
  {"data":{"values":[{"x":-1.039,"y":-0.998,"s":"b)"}]},"mark":{"type":"text","font":"DejaVu Sans","fontWeight":"bold","fontSize":26,"align":"left","baseline":"middle","color":"black"},"encoding":{"text":{"field":"s"}}}
 ]},
{"data":{"name":"MR"},
 "encoding":{"x":{"field":"x","type":"quantitative","axis":null,"scale":{"domain":[-3.21939,1.01531],"nice":false,"zero":false}},"y":{"field":"y","type":"quantitative","axis":null,"scale":{"domain":[-2.37092,3.55765],"nice":false,"zero":false}}},
 "layer":[
  {"data":{"name":"ctr"},"mark":{"type":"point","shape":"circle","size":153664,"filled":false,"stroke":"black","strokeWidth":1.2,"opacity":1}},
  {"data":{"name":"az"},"mark":{"type":"point","shape":"M0,-1L0,-1.05","size":153664,"filled":false,"stroke":"black","strokeWidth":1,"opacity":1},"encoding":{"angle":{"field":"az","type":"quantitative","scale":null}}},
  {"data":{"name":"grid"},"transform":[{"filter":"datum.d==='h'"}],"mark":{"type":"point","shape":"M0,-1L0,1","size":36,"filled":false,"stroke":"black","strokeWidth":1,"opacity":1}},
  {"data":{"name":"grid"},"transform":[{"filter":"datum.d==='v'"}],"mark":{"type":"point","shape":"M-1,0L1,0","size":64,"filled":false,"stroke":"black","strokeWidth":1,"opacity":1}},
  {"data":{"name":"ctr"},"mark":{"type":"point","shape":"M-1,0L1,0M0,-1L0,1","size":36,"filled":false,"stroke":"black","strokeWidth":1,"opacity":1}},
  {"transform":[{"filter":"datum.t==='F'"}],"mark":{"type":"point","shape":"circle","size":54,"filled":true,"color":"black","opacity":1}},
  {"transform":[{"filter":"datum.t==='O'"}],"mark":{"type":"point","shape":"circle","size":42,"filled":false,"fill":"white","stroke":"black","strokeWidth":1,"opacity":1}},
  {"data":{"values":[{"x":-0.315,"y":0.616}]},"mark":{"type":"point","shape":"circle","size":540,"filled":false,"stroke":"black","strokeWidth":1,"opacity":1}}
 ]},
{"data":{"name":"BL"},
 "encoding":{"x":{"field":"x","type":"quantitative","axis":null,"scale":{"domain":[-1.11071,3.12398],"nice":false,"zero":false}},"y":{"field":"y","type":"quantitative","axis":null,"scale":{"domain":[-0.19388,5.73469],"nice":false,"zero":false}}},
 "layer":[
  {"data":{"name":"ctr"},"mark":{"type":"point","shape":"M-1,0 A1,1 0 0 1 1,0","size":153664,"filled":false,"stroke":"black","strokeWidth":1.2,"opacity":1}},
  {"data":{"name":"az"},"transform":[{"filter":"datum.az<=90 || datum.az>=270"}],"mark":{"type":"point","shape":"M0,-1L0,-1.05","size":153664,"filled":false,"stroke":"black","strokeWidth":1,"opacity":1},"encoding":{"angle":{"field":"az","type":"quantitative","scale":null}}},
  {"data":{"values":[{"x":-1.06,"x2":1.06,"y":0}]},"mark":{"type":"rule","stroke":"black","strokeWidth":1.5},"encoding":{"x2":{"field":"x2"}}},
  {"data":{"name":"grid"},"transform":[{"filter":"datum.d==='h'"}],"mark":{"type":"point","shape":"M0,-1L0,0","size":100,"filled":false,"stroke":"black","strokeWidth":1,"opacity":1}},
  {"data":{"name":"grid"},"transform":[{"filter":"datum.d==='v' && datum.y>0"}],"mark":{"type":"point","shape":"M-1,0L1,0","size":64,"filled":false,"stroke":"black","strokeWidth":1,"opacity":1}},
  {"data":{"name":"BLoval"},"mark":{"type":"line","interpolate":"cardinal","stroke":"black","strokeWidth":1.2},"encoding":{"order":{"field":"i","type":"quantitative"}}},
  {"data":{"name":"BLdash"},"mark":{"type":"line","stroke":"black","strokeWidth":1.2,"strokeDash":[15,9]},"encoding":{"order":{"field":"i","type":"quantitative"}}},
  {"transform":[{"filter":"datum.t==='F'"}],"mark":{"type":"point","shape":"circle","size":64,"filled":true,"color":"black","opacity":1}},
  {"transform":[{"filter":"datum.t==='O'"}],"mark":{"type":"point","shape":"circle","size":48,"filled":false,"fill":"white","stroke":"black","strokeWidth":1,"opacity":1}},
  {"data":{"values":[{"x":-0.283,"y":0.796}]},"mark":{"type":"point","shape":"M0,-1L0.2245,-0.309L0.951,-0.309L0.363,0.118L0.588,0.809L0,0.382L-0.588,0.809L-0.363,0.118L-0.951,-0.309L-0.2245,-0.309Z","size":676,"filled":true,"color":"black","opacity":1}},
  {"data":{"values":[{"x":1.041,"y":1.126,"s":"site-mean"},{"x":1.041,"y":0.964,"s":"\"Ch\" Components"}]},"mark":{"type":"text","font":"DejaVu Sans","fontWeight":"bold","fontSize":21,"align":"center","baseline":"middle","color":"black"},"encoding":{"text":{"field":"s"}}},
  {"data":{"values":[{"x":-1.024,"y":-0.107,"s":"c)"}]},"mark":{"type":"text","font":"DejaVu Sans","fontWeight":"bold","fontSize":26,"align":"left","baseline":"middle","color":"black"},"encoding":{"text":{"field":"s"}}}
 ]},
{"data":{"name":"BR"},
 "encoding":{"x":{"field":"x","type":"quantitative","axis":null,"scale":{"domain":[-3.22704,1.00765],"nice":false,"zero":false}},"y":{"field":"y","type":"quantitative","axis":null,"scale":{"domain":[-0.19388,5.73469],"nice":false,"zero":false}}},
 "layer":[
  {"data":{"name":"ctr"},"mark":{"type":"point","shape":"M-1,0 A1,1 0 0 1 1,0","size":153664,"filled":false,"stroke":"black","strokeWidth":1.2,"opacity":1}},
  {"data":{"name":"az"},"transform":[{"filter":"datum.az<=90 || datum.az>=270"}],"mark":{"type":"point","shape":"M0,-1L0,-1.05","size":153664,"filled":false,"stroke":"black","strokeWidth":1,"opacity":1},"encoding":{"angle":{"field":"az","type":"quantitative","scale":null}}},
  {"data":{"values":[{"x":-1.06,"x2":1.01,"y":0}]},"mark":{"type":"rule","stroke":"black","strokeWidth":1.5},"encoding":{"x2":{"field":"x2"}}},
  {"data":{"name":"grid"},"transform":[{"filter":"datum.d==='h'"}],"mark":{"type":"point","shape":"M0,-1L0,0","size":100,"filled":false,"stroke":"black","strokeWidth":1,"opacity":1}},
  {"data":{"name":"grid"},"transform":[{"filter":"datum.d==='v' && datum.y>0"}],"mark":{"type":"point","shape":"M-1,0L1,0","size":64,"filled":false,"stroke":"black","strokeWidth":1,"opacity":1}},
  {"data":{"name":"BRoval"},"mark":{"type":"line","interpolate":"cardinal-closed","stroke":"black","strokeWidth":1.2},"encoding":{"order":{"field":"i","type":"quantitative"}}},
  {"data":{"name":"BRlead"},"mark":{"type":"rule","stroke":"black","strokeWidth":2},"encoding":{"x2":{"field":"x2"},"y2":{"field":"y2"}}},
  {"transform":[{"filter":"datum.t==='F'"}],"mark":{"type":"point","shape":"circle","size":64,"filled":true,"color":"black","opacity":1}},
  {"data":{"values":[{"x":-0.185,"y":0.634}]},"mark":{"type":"point","shape":"M0,-1L0.2245,-0.309L0.951,-0.309L0.363,0.118L0.588,0.809L0,0.382L-0.588,0.809L-0.363,0.118L-0.951,-0.309L-0.2245,-0.309Z","size":676,"filled":true,"color":"black","opacity":1}},
  {"data":{"name":"BRlab"},"mark":{"type":"text","font":"Liberation Sans","fontWeight":"bold","fontSize":20,"align":"left","baseline":"middle","color":"black"},"encoding":{"text":{"field":"s"}}}
 ]}
]
}
